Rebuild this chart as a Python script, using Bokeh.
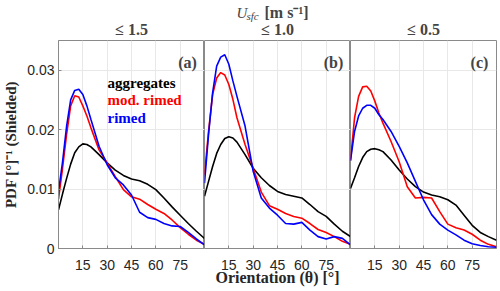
import math
from bokeh.plotting import figure
from bokeh.layouts import row, column
from bokeh.models import Range1d, FixedTicker, Label
from bokeh.embed import file_html
from bokeh.resources import INLINE

theta = [0, 2.5, 5, 7.5, 10, 12.5, 15, 17.5, 20, 25, 30, 35, 40, 45, 50, 55, 60, 65, 70, 75, 80, 85, 90]

agg_a = [0.0065, 0.0092, 0.0118, 0.0142, 0.0161, 0.0171, 0.0176, 0.0175, 0.0171, 0.0158, 0.0144, 0.0132,
         0.0123, 0.0117, 0.0114, 0.0108, 0.0099, 0.0085, 0.0070, 0.0056, 0.0042, 0.0029, 0.0017]
mod_a = [0.0083, 0.0135, 0.0192, 0.0240, 0.0257, 0.0255, 0.0240, 0.0223, 0.0203, 0.0166, 0.0144, 0.0121,
         0.0099, 0.0087, 0.0083, 0.0074, 0.0066, 0.0059, 0.0048, 0.0035, 0.0024, 0.0014, 0.0007]
rim_a = [0.0096, 0.0146, 0.0206, 0.0250, 0.0266, 0.0268, 0.0259, 0.0240, 0.0217, 0.0172, 0.0141, 0.0119,
         0.0107, 0.0090, 0.0061, 0.0052, 0.0049, 0.0042, 0.0038, 0.0037, 0.0027, 0.0016, 0.0006]

agg_b = [0.0088, 0.0113, 0.0138, 0.0160, 0.0175, 0.0185, 0.0188, 0.0186, 0.0179, 0.0158, 0.0135, 0.0119,
         0.0106, 0.0096, 0.0091, 0.0088, 0.0085, 0.0074, 0.0062, 0.0054, 0.0041, 0.0029, 0.0020]
mod_b = [0.0124, 0.0197, 0.0259, 0.0287, 0.0296, 0.0292, 0.0276, 0.0251, 0.0220, 0.0175, 0.0135, 0.0095,
         0.0072, 0.0066, 0.0059, 0.0054, 0.0051, 0.0042, 0.0032, 0.0027, 0.0020, 0.0012, 0.0007]
rim_b = [0.0110, 0.0192, 0.0262, 0.0307, 0.0322, 0.0326, 0.0310, 0.0282, 0.0256, 0.0206, 0.0130, 0.0085,
         0.0068, 0.0056, 0.0042, 0.0041, 0.0044, 0.0031, 0.0020, 0.0016, 0.0020, 0.0017, 0.0006]

agg_c = [0.0101, 0.0119, 0.0138, 0.0153, 0.0163, 0.0167, 0.0168, 0.0166, 0.0163, 0.0149, 0.0132, 0.0117,
         0.0104, 0.0095, 0.0090, 0.0087, 0.0082, 0.0073, 0.0056, 0.0039, 0.0027, 0.0020, 0.0014]
mod_c = [0.0148, 0.0220, 0.0256, 0.0272, 0.0273, 0.0265, 0.0248, 0.0228, 0.0211, 0.0180, 0.0146, 0.0104,
         0.0085, 0.0086, 0.0085, 0.0062, 0.0041, 0.0035, 0.0031, 0.0024, 0.0014, 0.0007, 0.0003]
rim_c = [0.0148, 0.0197, 0.0223, 0.0236, 0.0241, 0.0241, 0.0236, 0.0225, 0.0217, 0.0197, 0.0172, 0.0144,
         0.0113, 0.0082, 0.0057, 0.0041, 0.0031, 0.0023, 0.0014, 0.0008, 0.0005, 0.0003, 0.0002]

series_names = ["aggregates", "mod. rimed", "rimed"]
series_colors = ["#000000", "#ff0000", "#0000ff"]
panel_titles = ["\u2264 1.5", "\u2264 1.0", "\u2264 0.5"]
panel_letters = ["(a)", "(b)", "(c)"]
x_ticks = [15, 30, 45, 60, 75]
y_ticks = [0, 0.01, 0.02, 0.03]
y_tick_labels = ["0", "0.01", "0.02", "0.03"]

panels = [(agg_a, mod_a, rim_a), (agg_b, mod_b, rim_b), (agg_c, mod_c, rim_c)]

W = 500
HEAD_H = 40
FRAME_H = 208
BOTTOM = 43
FRAME_W = 146
LEFT = 58
SERIF = "Liberation Serif"
SANS = "Liberation Sans"
AXIS_GRAY = "#8a8a8a"
PH = FRAME_H + BOTTOM

# header strip (wind-speed labels)
head = figure(width=W, height=HEAD_H, output_backend="svg", toolbar_location=None,
              x_range=Range1d(0, W), y_range=Range1d(0, HEAD_H),
              x_axis_location=None, y_axis_location=None,
              min_border_left=0, min_border_right=0, min_border_top=0, min_border_bottom=0)
head.outline_line_color = None
head.grid.visible = False
head.border_fill_color = "white"
head.background_fill_color = "white"

head.add_layout(Label(x=236, y=HEAD_H - 12, x_units="screen", y_units="screen", text="U",
                      text_font=SERIF, text_font_style="italic", text_font_size="15px",
                      text_align="left", text_baseline="middle"))
head.add_layout(Label(x=246, y=HEAD_H - 15, x_units="screen", y_units="screen", text="sfc",
                      text_font=SERIF, text_font_style="italic", text_font_size="11px",
                      text_align="left", text_baseline="middle"))
head.add_layout(Label(x=264, y=HEAD_H - 12, x_units="screen", y_units="screen", text="[m s\u207b\u00b9]",
                      text_font=SERIF, text_font_style="bold", text_font_size="16px",
                      text_align="left", text_baseline="middle"))
for i, t in enumerate(panel_titles):
    head.add_layout(Label(x=LEFT + FRAME_W * i + FRAME_W / 2, y=HEAD_H - 28.5, x_units="screen",
                          y_units="screen", text=t, text_font=SERIF, text_font_style="bold",
                          text_font_size="16px", text_align="center", text_baseline="middle"))

figs = []
for i, data in enumerate(panels):
    left = LEFT if i == 0 else 0
    right = 4 if i == 2 else 0
    p = figure(width=left + FRAME_W + right, height=PH, output_backend="svg", toolbar_location=None,
               x_range=Range1d(0, 90), y_range=Range1d(0, 0.035),
               min_border_left=left, min_border_right=right, min_border_top=0, min_border_bottom=BOTTOM)
    p.background_fill_color = "white"
    p.border_fill_color = "white"
    p.outline_line_color = AXIS_GRAY
    p.outline_line_width = 1

    p.xaxis.ticker = FixedTicker(ticks=x_ticks)
    p.xaxis.axis_line_color = AXIS_GRAY
    p.xaxis.major_tick_line_color = AXIS_GRAY
    p.xaxis.major_tick_in = 3
    p.xaxis.major_tick_out = 0
    p.xaxis.minor_tick_line_color = None
    p.xaxis.major_label_text_font = SANS
    p.xaxis.major_label_text_font_size = "14px"
    p.xaxis.major_label_text_color = "#262626"
    p.xaxis.major_label_standoff = 11

    p.yaxis.ticker = FixedTicker(ticks=y_ticks)
    if i == 0:
        p.yaxis.major_label_overrides = {t: s for t, s in zip(y_ticks, y_tick_labels)}
        p.yaxis.axis_line_color = AXIS_GRAY
        p.yaxis.major_tick_line_color = AXIS_GRAY
        p.yaxis.major_tick_in = 3
        p.yaxis.major_tick_out = 0
        p.yaxis.minor_tick_line_color = None
        p.yaxis.major_label_text_font = SANS
        p.yaxis.major_label_text_font_size = "14px"
        p.yaxis.major_label_text_color = "#262626"
        p.yaxis.major_label_standoff = 4
        p.yaxis.axis_label = "PDF [\u00b0]\u207b\u00b9 (Shielded)"
        p.yaxis.axis_label_text_font = SERIF
        p.yaxis.axis_label_text_font_style = "bold"
        p.yaxis.axis_label_text_font_size = "15px"
        p.yaxis.axis_label_text_color = "#262626"
        p.yaxis.axis_label_standoff = 5
    else:
        p.yaxis.visible = False

    if i == 1:
        p.xaxis.axis_label = "Orientation (\u03b8) [\u00b0]"
        p.xaxis.axis_label_text_font = SERIF
        p.xaxis.axis_label_text_font_style = "bold"
        p.xaxis.axis_label_text_font_size = "16px"
        p.xaxis.axis_label_text_color = "#262626"
        p.xaxis.axis_label_standoff = -4

    p.xgrid.ticker = FixedTicker(ticks=x_ticks)
    p.ygrid.ticker = FixedTicker(ticks=y_ticks[1:])
    p.grid.grid_line_color = "#e8e8e8"
    p.grid.grid_line_width = 1

    for ys, col in zip(data, series_colors):
        p.line(theta, ys, line_color=col, line_width=1.6)

    # panel letter (frame-relative screen coordinates)
    p.add_layout(Label(x=129, y=FRAME_H - 22, x_units="screen", y_units="screen",
                       text=panel_letters[i], text_font=SERIF, text_font_style="bold",
                       text_font_size="16px", text_align="center", text_baseline="middle"))
    figs.append(p)

pa, pb, pc = figs

# legend as coloured text in panel (a)
for k, (name, col) in enumerate(zip(series_names, series_colors)):
    pa.add_layout(Label(x=49, y=FRAME_H - 42 - 17.8 * k, x_units="screen", y_units="screen",
                        text=name, text_color=col, text_font=SERIF, text_font_style="bold",
                        text_font_size="15px", text_align="left", text_baseline="middle"))

layout = column(head, row(pa, pb, pc, spacing=0), spacing=0)
open("out.html", "w").write(file_html(layout, INLINE))
